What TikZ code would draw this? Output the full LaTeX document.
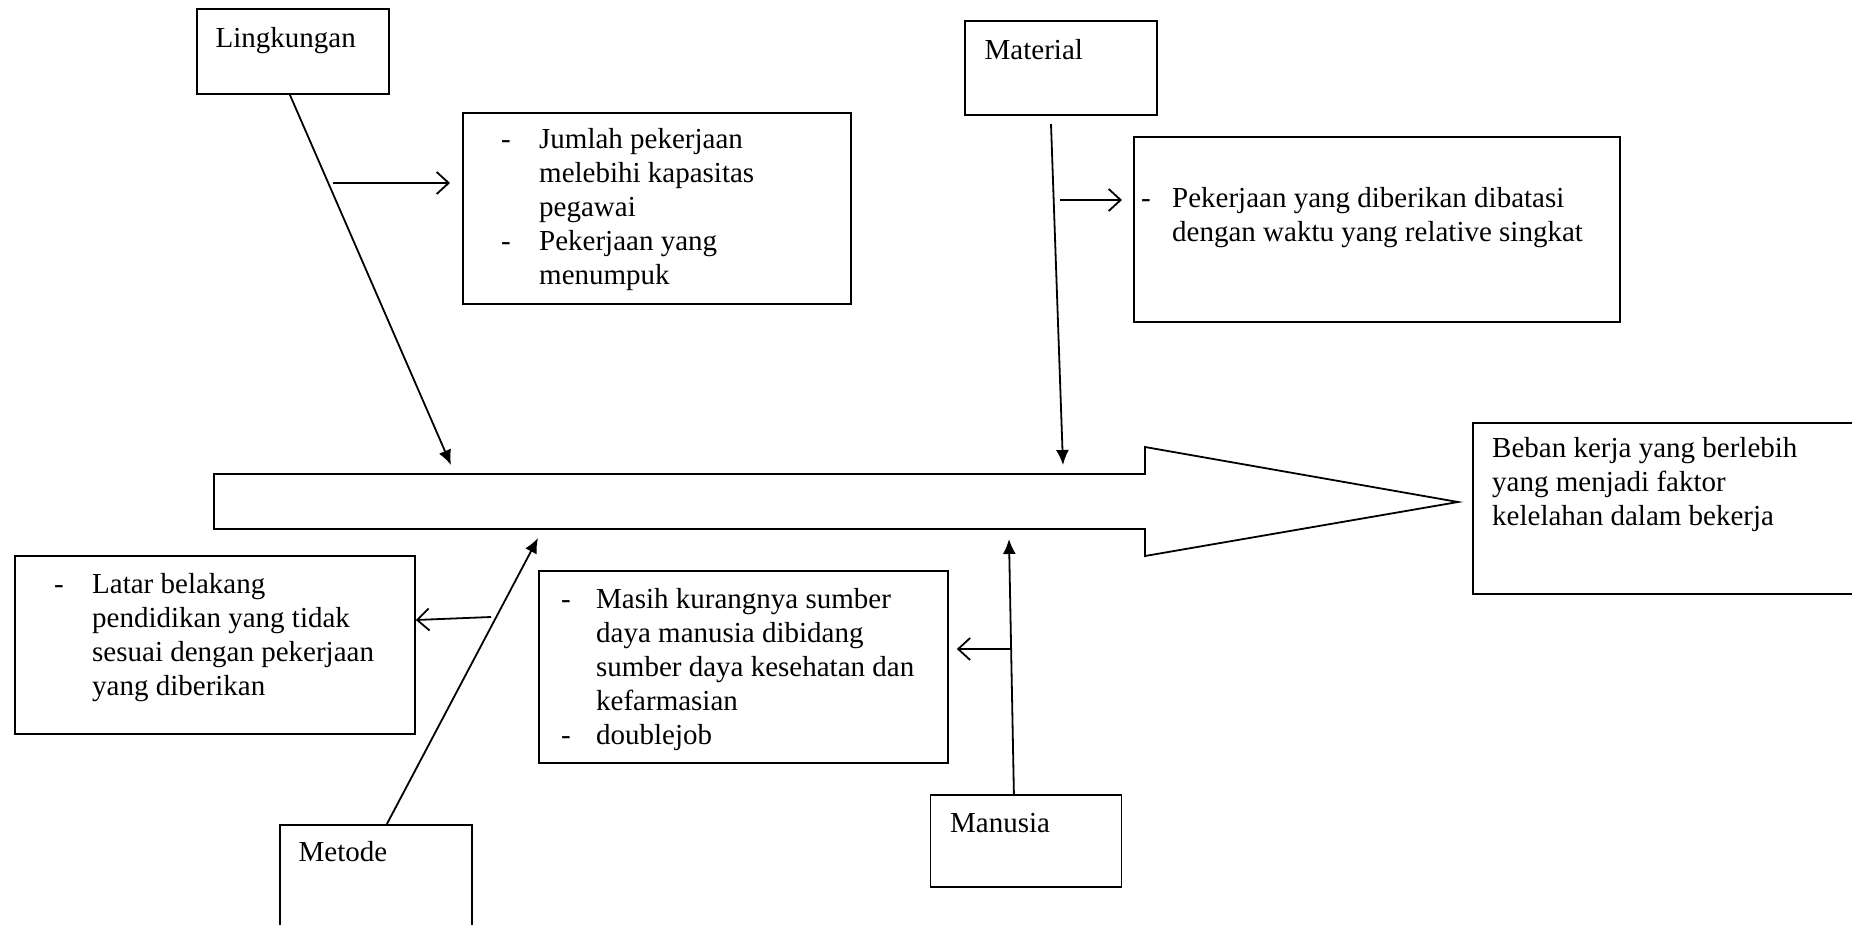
\documentclass[tikz,border=0pt]{standalone}
\usepackage{fontspec}
\setmainfont{Liberation Serif}
\usetikzlibrary{arrows.meta,calc}
\tikzset{
  boxnode/.style={draw, line width=1.8pt, inner sep=0pt, anchor=north west},
  txt/.style={inner sep=0pt, anchor=base west, font=\fontsize{29}{34}\selectfont},
  mainline/.style={line width=1.8pt, -{Latex[length=15pt,width=13pt]}},
  barb/.style={line width=1.8pt, -{Straight Barb[length=12pt,width=22pt,line width=1.8pt]}},
  bigarrow/.style={draw, line width=1.8pt, line join=miter}
}
\newcommand{\dsh}[1]{\makebox[#1][l]{-}}
\begin{document}
\begin{tikzpicture}[x=1pt,y=-1pt]
\useasboundingbox (0,0) rectangle (1852,924);
\clip (0,0) rectangle (1852,924);
\fill[white] (0,0) rectangle (1852,924);

% boxes
\node[boxnode, minimum width=192pt, minimum height=85pt] (ling) at (196,8) {};
\node[boxnode, minimum width=388pt, minimum height=191pt] (jum) at (462,112) {};
\node[boxnode, minimum width=192pt, minimum height=94pt] (mat) at (964,20) {};
\node[boxnode, minimum width=486pt, minimum height=185pt] (pek) at (1133,136) {};
\node[boxnode, minimum width=400pt, minimum height=178pt] (latar) at (14,555) {};
\node[boxnode, minimum width=409pt, minimum height=192pt] (masih) at (538,570) {};
\node[boxnode, minimum width=192pt, minimum height=130pt] (metode) at (279,824) {};
\node[boxnode, minimum width=191pt, minimum height=92pt] (manusia) at (929.5,794) {};
\node[boxnode, minimum width=420pt, minimum height=171pt] (beban) at (1472,422) {};

% texts
\node[txt] (lingt) at (215.5,47) {Lingkungan};
\node[txt] (matt) at (984.5,59) {Material};
\node[txt] (metodet) at (298.5,861) {Metode};
\node[txt] (manusiat) at (950,832) {Manusia};
\node[txt] (jumt) at (501,148) {\parbox[t]{340pt}{\raggedright
  \dsh{38pt}Jumlah pekerjaan\\
  \hspace*{38pt}melebihi kapasitas\\
  \hspace*{38pt}pegawai\\
  \dsh{38pt}Pekerjaan yang\\
  \hspace*{38pt}menumpuk}};
\node[txt] (pekt) at (1141,207) {\parbox[t]{470pt}{\raggedright
  \dsh{31pt}Pekerjaan yang diberikan dibatasi\\
  \hspace*{31pt}dengan waktu yang relative singkat}};
\node[txt] (latart) at (54,593) {\parbox[t]{355pt}{\raggedright
  \dsh{38pt}Latar belakang\\
  \hspace*{38pt}pendidikan yang tidak\\
  \hspace*{38pt}sesuai dengan pekerjaan\\
  \hspace*{38pt}yang diberikan}};
\node[txt] (masiht) at (561,608) {\parbox[t]{380pt}{\raggedright
  \dsh{35pt}Masih kurangnya sumber\\
  \hspace*{35pt}daya manusia dibidang\\
  \hspace*{35pt}sumber daya kesehatan dan\\
  \hspace*{35pt}kefarmasian\\
  \dsh{35pt}doublejob}};
\node[txt] (bebant) at (1492,457) {\parbox[t]{350pt}{\raggedright
  Beban kerja yang berlebih\\
  yang menjadi faktor\\
  kelelahan dalam bekerja}};

% big arrow
\draw[bigarrow] (214,474) -- (1145,474) -- (1145,447) -- (1458,502) -- (1145,556) -- (1145,529) -- (214,529) -- cycle;

% coordinates
\coordinate (lingTip) at (451,465);
\coordinate (lingBr) at (333,183);
\coordinate (matTop) at (1051,124);
\coordinate (matTip) at (1063,465);
\coordinate (matBr) at (1060,200);
\coordinate (metTip) at (538,538);
\coordinate (metBr) at (491,617);
\coordinate (manTip) at (1009,539);
\coordinate (manBr) at (1010,649);

% connectors
\draw[mainline] ([xshift=-3pt]ling.south) -- (lingTip);
\draw[barb] (lingBr) -- ([xshift=-12pt]lingBr -| jum.west);
\draw[mainline] (matTop) -- (matTip);
\draw[barb] (matBr) -- ([xshift=-11pt]matBr -| pek.west);
\draw[mainline] ([xshift=11pt]metode.north) -- (metTip);
\draw[barb] (metBr) -- ([yshift=-3pt]metBr -| latar.east);
\draw[mainline] ([xshift=-12pt]manusia.north) -- (manTip);
\draw[barb] (manBr) -- ([xshift=8pt]manBr -| masih.east);
\end{tikzpicture}
\end{document}
